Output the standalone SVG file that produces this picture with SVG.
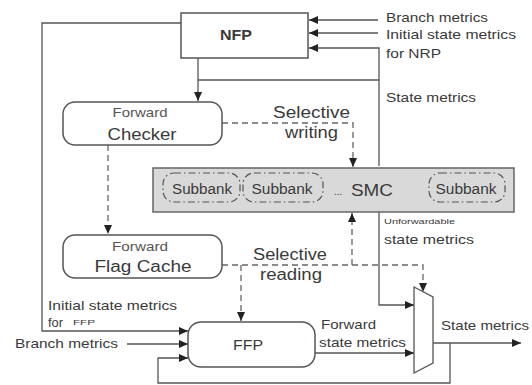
<svg xmlns="http://www.w3.org/2000/svg" width="532" height="385" viewBox="0 0 532 385">
  <style>
    text { font-family: "Liberation Sans", Arial, sans-serif; fill: #3a3a3a; }
    .lbl { font-size: 13px; }
    .sm { font-size: 13px; fill: #555; }
    .big { font-size: 16px; }
    .wire { fill: none; stroke: #555; stroke-width: 1.3; }
    .dash { fill: none; stroke: #666; stroke-width: 1.3; stroke-dasharray: 6 4; }
    .box { fill: #fff; stroke: #555; stroke-width: 1.5; }
    .bank { fill: none; stroke: #555; stroke-width: 1.2; stroke-dasharray: 7 3 1.5 3; }
  </style>
  <defs>
    <marker id="arr" markerWidth="9" markerHeight="8" refX="9" refY="4" orient="auto" markerUnits="userSpaceOnUse">
      <path d="M0,0 L9,4 L0,8 Z" fill="#222"/>
    </marker>
  </defs>

  <!-- connectors -->
  <g id="connectors">
    <!-- inputs to NFP -->
    <path class="wire" d="M378,20 H309" marker-end="url(#arr)"/>
    <path class="wire" d="M378,33 H309" marker-end="url(#arr)"/>
    <path class="wire" d="M379,166 V48 H309" marker-end="url(#arr)"/>
    <!-- NFP to checker and state metrics bus -->
    <path class="wire" d="M198,58 V101" marker-end="url(#arr)"/>
    <path class="wire" d="M198,80 H379"/>
    <!-- NFP left loop into FFP -->
    <path class="wire" d="M181,23 H42 V331 H188" marker-end="url(#arr)"/>
    <!-- branch metrics into FFP -->
    <path class="wire" d="M127,344 H188" marker-end="url(#arr)"/>
    <!-- feedback from output into FFP -->
    <path class="wire" d="M450,343 V383 H158 V358 H188" marker-end="url(#arr)"/>
    <!-- FFP to mux -->
    <path class="wire" d="M315,353 H414" marker-end="url(#arr)"/>
    <!-- unforwardable from SMC to mux -->
    <path class="wire" d="M379,212 V305 H414" marker-end="url(#arr)"/>
    <!-- mux output -->
    <path class="wire" d="M433,343 H521" marker-end="url(#arr)"/>
    <!-- selective writing -->
    <path class="dash" d="M222,123 H353 V167" marker-end="url(#arr)"/>
    <!-- checker to flag cache -->
    <path class="dash" d="M108,145 V234" marker-end="url(#arr)"/>
    <!-- selective reading -->
    <path class="dash" d="M222,265 H423 V292" marker-end="url(#arr)"/>
    <path class="dash" d="M352,265 V213" marker-end="url(#arr)"/>
    <path class="dash" d="M241,265 V321" marker-end="url(#arr)"/>
  </g>

  <!-- NFP -->
  <g id="nfp">
    <rect class="box" x="181" y="13" width="127" height="45"/>
    <text x="236" y="40" text-anchor="middle" font-size="15" font-weight="bold" fill="#222" textLength="32" lengthAdjust="spacingAndGlyphs">NFP</text>
  </g>

  <!-- Forward Checker -->
  <g id="checker">
    <rect class="box" x="63" y="102" width="159" height="43" rx="12"/>
    <text class="sm" x="140" y="117" text-anchor="middle" textLength="55" lengthAdjust="spacingAndGlyphs">Forward</text>
    <text class="big" x="142" y="140" text-anchor="middle" textLength="69" lengthAdjust="spacingAndGlyphs">Checker</text>
  </g>

  <!-- Forward Flag Cache -->
  <g id="flagcache">
    <rect class="box" x="63" y="235" width="159" height="43" rx="12"/>
    <text class="sm" x="140" y="251" text-anchor="middle" textLength="56" lengthAdjust="spacingAndGlyphs">Forward</text>
    <text class="big" x="143" y="272" text-anchor="middle" textLength="97" lengthAdjust="spacingAndGlyphs">Flag Cache</text>
  </g>

  <!-- SMC with subbanks -->
  <g id="smc">
    <rect x="153" y="168" width="361" height="44" fill="#d9d9d9" stroke="#666" stroke-width="1.5"/>
    <rect class="bank" x="163" y="173" width="77" height="29" rx="11"/>
    <rect class="bank" x="243" y="173" width="80" height="29" rx="11"/>
    <rect class="bank" x="429" y="173" width="76" height="29" rx="11"/>
    <text x="202" y="194" font-size="14" text-anchor="middle" textLength="60" lengthAdjust="spacingAndGlyphs">Subbank</text>
    <text x="282" y="194" font-size="14" text-anchor="middle" textLength="61" lengthAdjust="spacingAndGlyphs">Subbank</text>
    <text x="466" y="194" font-size="14" text-anchor="middle" textLength="61" lengthAdjust="spacingAndGlyphs">Subbank</text>
    <text x="334" y="195" font-size="10">...</text>
    <text x="351" y="196" font-size="17" textLength="42" lengthAdjust="spacingAndGlyphs">SMC</text>
  </g>

  <!-- FFP -->
  <g id="ffp">
    <rect class="box" x="188" y="322" width="127" height="45" rx="13"/>
    <text x="248" y="350" text-anchor="middle" font-size="14" fill="#555" textLength="30" lengthAdjust="spacingAndGlyphs">FFP</text>
  </g>

  <!-- multiplexer -->
  <g id="mux">
    <polygon points="414,287 433,297 433,363 414,373" fill="#fff" stroke="#555" stroke-width="1.3"/>
  </g>

  <!-- labels -->
  <g id="labels">
    <text class="lbl" x="386" y="22" textLength="102" lengthAdjust="spacingAndGlyphs">Branch metrics</text>
    <text class="lbl" x="386" y="39" textLength="130" lengthAdjust="spacingAndGlyphs">Initial state metrics</text>
    <text class="lbl" x="386" y="58" textLength="55" lengthAdjust="spacingAndGlyphs">for NRP</text>
    <text class="lbl" x="386" y="102" textLength="90" lengthAdjust="spacingAndGlyphs">State metrics</text>
    <text x="273" y="118" font-size="16" textLength="77" lengthAdjust="spacingAndGlyphs">Selective</text>
    <text x="285" y="138" font-size="16" textLength="53" lengthAdjust="spacingAndGlyphs">writing</text>
    <text x="384" y="224" font-size="7" textLength="71" lengthAdjust="spacingAndGlyphs">Unforwardable</text>
    <text class="lbl" x="384" y="244" textLength="90" lengthAdjust="spacingAndGlyphs">state metrics</text>
    <text x="253" y="260" font-size="16" textLength="74" lengthAdjust="spacingAndGlyphs">Selective</text>
    <text x="260" y="280" font-size="16" textLength="62" lengthAdjust="spacingAndGlyphs">reading</text>
    <text class="lbl" x="48" y="310" textLength="129" lengthAdjust="spacingAndGlyphs">Initial state metrics</text>
    <text class="lbl" x="48" y="327" textLength="15" lengthAdjust="spacingAndGlyphs">for</text>
    <text x="73" y="325" font-size="8" textLength="22" lengthAdjust="spacingAndGlyphs">FFP</text>
    <text class="lbl" x="15" y="348" textLength="103" lengthAdjust="spacingAndGlyphs">Branch metrics</text>
    <text class="lbl" x="321" y="329" textLength="55" lengthAdjust="spacingAndGlyphs">Forward</text>
    <text class="lbl" x="319" y="347" textLength="87" lengthAdjust="spacingAndGlyphs">state metrics</text>
    <text class="lbl" x="441" y="330" textLength="88" lengthAdjust="spacingAndGlyphs">State metrics</text>
  </g>
</svg>
